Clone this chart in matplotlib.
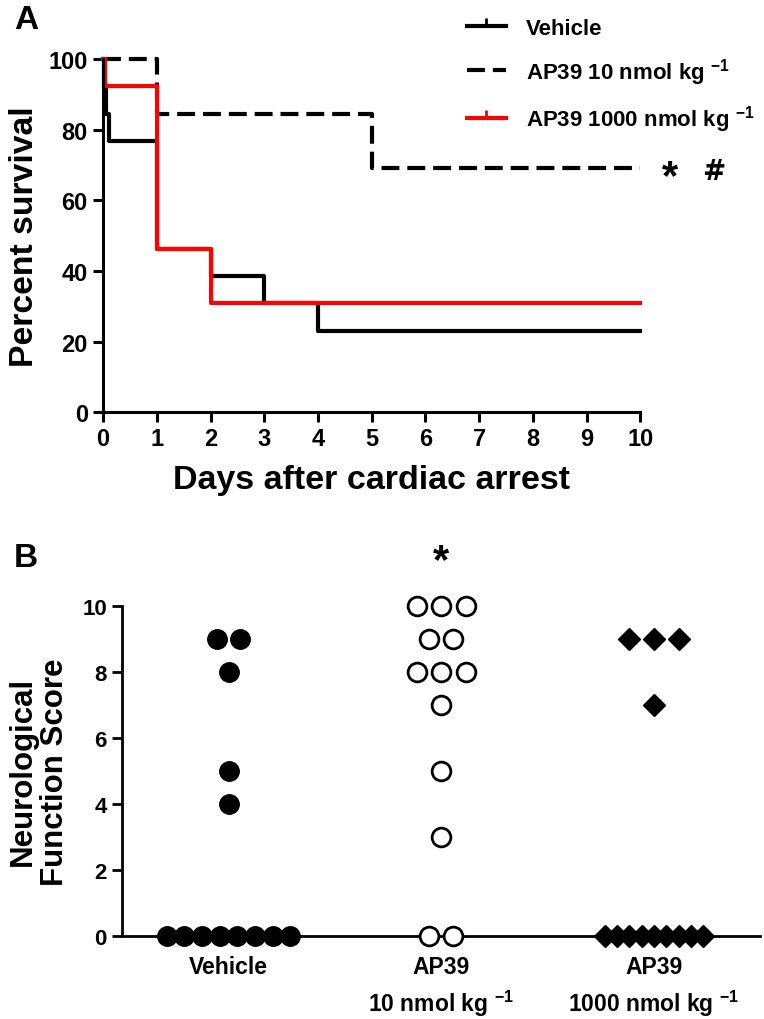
""" Kaplan-Meier survival after cardiac arrest (A) and neurological
    function scores per treatment group (B) """

import matplotlib
matplotlib.use('Agg')
import matplotlib.pyplot as plt
from matplotlib.lines import Line2D
import numpy as np

plt.rcParams['font.family'] = ['Liberation Sans', 'DejaVu Sans']
plt.rcParams['font.weight'] = 'bold'
plt.rcParams['mathtext.default'] = 'regular'

NARROW = ['Liberation Sans Narrow', 'Liberation Sans', 'DejaVu Sans']

# Panel A: survival steps (day of event, percent surviving afterwards)
vehicle_days = [0, 0.02, 0.06, 0.1, 1, 2, 3, 4, 10]
vehicle_surv = [100, 92.3, 84.6, 76.9, 46.2, 38.5, 30.8, 23.1, 23.1]
low_days = [0, 1, 5, 10]
low_surv = [100, 84.6, 69.2, 69.2]
high_days = [0, 0.03, 1, 2, 10]
high_surv = [100, 92.3, 46.2, 30.8, 30.8]
series_labels = ['Vehicle', 'AP39 10 nmol kg $^{-1}$',
                 'AP39 1000 nmol kg $^{-1}$']

# Panel B: neurological function scores
groups = ['Vehicle', 'AP39\n10 nmol kg $^{-1}$', 'AP39\n1000 nmol kg $^{-1}$']
vehicle_scores = [9, 9, 8, 5, 4, 0, 0, 0, 0, 0, 0, 0, 0]
low_scores = [10, 10, 10, 9, 9, 8, 8, 8, 7, 5, 3, 0, 0]
high_scores = [9, 9, 9, 7, 0, 0, 0, 0, 0, 0, 0, 0, 0]

DASH = (0, (4.3, 1.9))
CENSOR = [(0, 0), (0, 1)]


def swarm_offsets(scores, step, crowded_step):
    """ Spread equal scores symmetrically around the group centre """
    scores = np.asarray(scores)
    offsets = np.zeros(len(scores))
    for value in np.unique(scores):
        idx = np.where(scores == value)[0]
        n = len(idx)
        s = step if n <= 3 else crowded_step
        offsets[idx] = (np.arange(n) - (n - 1) / 2) * s
    return offsets


fig = plt.figure(figsize=(7.64, 10.2), dpi=100)

# ---------------- Panel A ----------------
ax1 = fig.add_axes([0.135, 0.595, 0.703, 0.346])
ax1.step(vehicle_days, vehicle_surv, where='post', color='black', lw=3,
         clip_on=False)
ax1.step(low_days, low_surv, where='post', color='black', lw=3,
         ls=DASH, clip_on=False)
ax1.step(high_days, high_surv, where='post', color='#ff0000', lw=3,
         clip_on=False)
ax1.set_xlim(0, 10)
ax1.set_ylim(0, 100)
ax1.set_xticks(range(0, 11))
ax1.set_yticks(range(0, 101, 20))
for side in ['top', 'right']:
    ax1.spines[side].set_visible(False)
for side in ['left', 'bottom']:
    ax1.spines[side].set_linewidth(2.2)
ax1.tick_params(width=2.2, length=7, pad=4)
for lab in ax1.get_xticklabels() + ax1.get_yticklabels():
    lab.set_family(NARROW)
    lab.set_fontsize(17)
    lab.set_weight('bold')
ax1.set_xlabel('Days after cardiac arrest', fontsize=24.5,
               fontweight='bold', labelpad=10)
ax1.set_ylabel('Percent survival', fontsize=24.3, fontweight='bold',
               labelpad=6)
ax1.text(10.56, 66.5, '*', fontsize=30, ha='center', va='center',
         clip_on=False)
ax1.text(11.36, 68.3, '#', fontsize=20, ha='center', va='center',
         family='DejaVu Sans', fontweight='bold', clip_on=False)

# legend with censor-tick handles for the solid series
handles = [
    Line2D([0], [0], color='black', lw=3, marker=CENSOR, markersize=12,
           markeredgewidth=2),
    Line2D([0], [0], color='black', lw=3, ls=DASH),
    Line2D([0], [0], color='#ff0000', lw=3, marker=CENSOR, markersize=12,
           markeredgewidth=2),
]
fig.legend(handles, series_labels, loc='upper left',
           bbox_to_anchor=(0.585, 1.001), frameon=False, fontsize=16,
           handlelength=1.75, handletextpad=0.9, labelspacing=0.75)

fig.text(0.018, 0.995, 'A', fontsize=24, fontweight='bold', va='top')

# ---------------- Panel B ----------------
ax2 = fig.add_axes([0.160, 0.0814, 0.835, 0.3236])
ax2.plot(0 + swarm_offsets(vehicle_scores, 0.11, 0.083), vehicle_scores,
         'o', color='black', markersize=14, clip_on=False, zorder=3)
ax2.plot(1 + swarm_offsets(low_scores, 0.115, 0.12), low_scores,
         'o', mfc='white', mec='black', mew=2, markersize=13.5,
         clip_on=False, zorder=3)
ax2.plot(2 + swarm_offsets(high_scores, 0.117, 0.058), high_scores,
         'D', color='black', markersize=11.5, clip_on=False, zorder=3)
ax2.set_xlim(-0.5, 2.5)
ax2.set_ylim(0, 10)
ax2.set_yticks(range(0, 11, 2))
ax2.set_xticks(range(len(groups)))
ax2.set_xticklabels(groups, fontsize=16.5, fontweight='bold',
                    linespacing=1.4)
for side in ['top', 'right']:
    ax2.spines[side].set_visible(False)
for side in ['left', 'bottom']:
    ax2.spines[side].set_linewidth(2)
ax2.tick_params(axis='y', width=2, length=7, pad=4)
ax2.tick_params(axis='x', length=0, pad=14)
for lab in ax2.get_yticklabels():
    lab.set_family(NARROW)
    lab.set_fontsize(16)
    lab.set_weight('bold')
ax2.set_ylabel('Neurological\nFunction Score', fontsize=22.5,
               fontweight='bold', labelpad=9, linespacing=1.1)
ax2.text(1, 11.35, '*', fontsize=30, ha='center', va='center',
         clip_on=False)

fig.text(0.018, 0.468, 'B', fontsize=24, fontweight='bold', va='top')

fig.savefig('out.png', dpi=100)
